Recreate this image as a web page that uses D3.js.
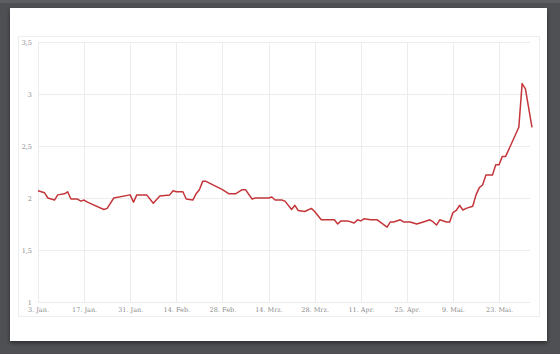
<!DOCTYPE html>
<html>
<head>
<meta charset="utf-8">
<script src="https://cdn.jsdelivr.net/npm/d3@7"></script>
<style>
  html, body { margin: 0; padding: 0; background: #4e5053; }
  svg { display: block; }
</style>
</head>
<body>
<div id="chart"></div>
<script>
// values
var dates = ["2022-01-03","2022-01-05","2022-01-06","2022-01-08","2022-01-09","2022-01-11","2022-01-12","2022-01-13",
  "2022-01-15","2022-01-16","2022-01-17","2022-01-18","2022-01-23","2022-01-24","2022-01-26","2022-01-31",
  "2022-02-01","2022-02-02","2022-02-05","2022-02-07","2022-02-09","2022-02-12","2022-02-13","2022-02-14",
  "2022-02-16","2022-02-17","2022-02-19","2022-02-20","2022-02-21","2022-02-22","2022-02-23","2022-02-28",
  "2022-03-02","2022-03-04","2022-03-06","2022-03-07","2022-03-09","2022-03-10","2022-03-14","2022-03-15",
  "2022-03-16","2022-03-18","2022-03-19","2022-03-21","2022-03-22","2022-03-23","2022-03-25","2022-03-27",
  "2022-03-28","2022-03-30","2022-04-03","2022-04-04","2022-04-05","2022-04-07","2022-04-09","2022-04-10",
  "2022-04-11","2022-04-12","2022-04-14","2022-04-16","2022-04-19","2022-04-20","2022-04-21","2022-04-23",
  "2022-04-24","2022-04-26","2022-04-28","2022-04-30","2022-05-02","2022-05-03","2022-05-04","2022-05-05",
  "2022-05-07","2022-05-08","2022-05-09","2022-05-10","2022-05-11","2022-05-12","2022-05-13","2022-05-15",
  "2022-05-16","2022-05-17","2022-05-18","2022-05-19","2022-05-21","2022-05-22","2022-05-23","2022-05-24",
  "2022-05-25","2022-05-29","2022-05-30","2022-05-31","2022-06-02"];
var values = [2.07,2.05,2.00,1.98,2.03,2.04,2.06,1.99,
  1.99,1.97,1.98,1.96,1.89,1.90,2.00,2.03,
  1.96,2.03,2.03,1.95,2.02,2.03,2.07,2.06,
  2.06,1.99,1.98,2.04,2.08,2.16,2.16,2.08,
  2.04,2.04,2.08,2.08,1.99,2.00,2.00,2.01,
  1.98,1.98,1.97,1.89,1.93,1.88,1.87,1.90,
  1.87,1.79,1.79,1.75,1.78,1.78,1.76,1.79,
  1.78,1.80,1.79,1.79,1.72,1.77,1.77,1.79,
  1.77,1.77,1.75,1.77,1.79,1.77,1.74,1.79,
  1.77,1.77,1.86,1.88,1.93,1.885,1.90,1.92,
  2.03,2.10,2.125,2.22,2.22,2.32,2.32,2.40,
  2.40,2.68,3.10,3.05,2.68];

var tickDates = ["2022-01-03","2022-01-17","2022-01-31","2022-02-14","2022-02-28","2022-03-14",
  "2022-03-28","2022-04-11","2022-04-25","2022-05-09","2022-05-23"];
var tickLabels = ["3. Jan.","17. Jan.","31. Jan.","14. Feb.","28. Feb.","14. Mrz.",
  "28. Mrz.","11. Apr.","25. Apr.","9. Mai.","23. Mai."];
var yTicks = [1, 1.5, 2, 2.5, 3, 3.5];
var yLabels = ["1", "1,5", "2", "2,5", "3", "3,5"];

var parse = d3.timeParse("%Y-%m-%d");
var data = dates.map(function(d, i) { return {x: parse(d), y: values[i]}; });

var W = 560, H = 354;
var margin = {top: 42, right: 28, bottom: 52, left: 38},
    width = W - margin.left - margin.right,
    height = H - margin.top - margin.bottom;

var svg = d3.select("#chart").append("svg")
    .attr("width", W)
    .attr("height", H);

var defs = svg.append("defs");
var f = defs.append("filter").attr("id", "shadow")
    .attr("x", "-5%").attr("y", "-5%").attr("width", "110%").attr("height", "115%");
f.append("feDropShadow").attr("dx", 0).attr("dy", 2).attr("stdDeviation", 2)
    .attr("flood-color", "#000").attr("flood-opacity", 0.45);

// card
svg.append("rect").attr("x", 0).attr("y", 0).attr("width", W).attr("height", 3).attr("fill", "#5c5e61");
svg.append("rect")
    .attr("x", 10).attr("y", 8).attr("width", 537).attr("height", 333)
    .attr("fill", "#fff")
    .attr("filter", "url(#shadow)");
// inner panel
svg.append("rect")
    .attr("x", 18.5).attr("y", 36.5).attr("width", 521).attr("height", 280)
    .attr("fill", "none").attr("stroke", "#eeeeee");

var g = svg.append("g")
    .attr("transform", "translate(" + margin.left + "," + margin.top + ")");

var xScale = d3.scaleTime()
    .domain([parse("2022-01-03"), parse("2022-06-02")])
    .range([0, width]);

var yScale = d3.scaleLinear()
    .domain([1, 3.5])
    .range([height, 0]);

// grid
g.append("g").selectAll("line").data(yTicks).enter().append("line")
    .attr("x1", 0).attr("x2", width - 2)
    .attr("y1", function(d) { return Math.round(yScale(d)) + 0.5; })
    .attr("y2", function(d) { return Math.round(yScale(d)) + 0.5; })
    .attr("stroke", "#ececec");

g.append("g").selectAll("line").data(tickDates).enter().append("line")
    .attr("x1", function(d) { return Math.round(xScale(parse(d))) + 0.5; })
    .attr("x2", function(d) { return Math.round(xScale(parse(d))) + 0.5; })
    .attr("y1", 0).attr("y2", height)
    .attr("stroke", "#ececec");

// x axis
var xAxis = d3.axisBottom(xScale)
    .tickValues(tickDates.map(parse))
    .tickSize(0)
    .tickPadding(5)
    .tickFormat(function(d, i) { return tickLabels[i]; });
var gx = g.append("g")
    .attr("transform", "translate(0," + height + ")")
    .call(xAxis);

// y axis
var yAxis = d3.axisLeft(yScale)
    .tickValues(yTicks)
    .tickSize(0)
    .tickPadding(6)
    .tickFormat(function(d, i) { return yLabels[i]; });
var gy = g.append("g").call(yAxis);

[gx, gy].forEach(function(a) {
    a.select(".domain").remove();
    a.selectAll("text")
        .attr("fill", "#8a8a8a")
        .style("font-family", "'DejaVu Serif', serif")
        .style("font-size", "6.5px");
});

// line
var line = d3.line()
    .x(function(d) { return xScale(d.x); })
    .y(function(d) { return yScale(d.y); });

g.append("path")
    .datum(data)
    .attr("fill", "none")
    .attr("stroke", "#c4363a")
    .attr("stroke-width", 1.5)
    .attr("stroke-linejoin", "round")
    .attr("d", line);
</script>
</body>
</html>
